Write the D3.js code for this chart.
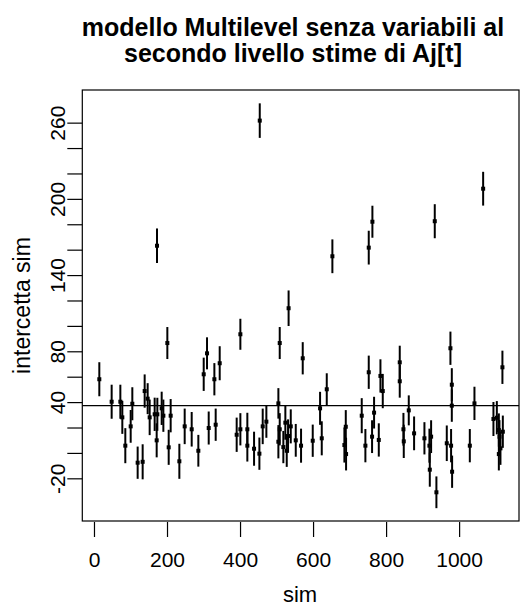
<!DOCTYPE html>
<html>
<head>
<meta charset="utf-8">
<script src="https://cdn.jsdelivr.net/npm/d3@7"></script>
<style>
body { margin: 0; background: #fff; }
text { font-family: 'Liberation Sans', Arial, sans-serif; fill: #000; }
</style>
</head>
<body>
<script>
// stime per simulazione: posizione, stima, mezza ampiezza della barra
var simX = [14.6, 48.4, 72.2, 77.6, 85.8, 100.5, 105, 119.6, 133.3, 138.8, 147, 152.5, 166.2, 171.7, 172.6, 173.5, 185.4, 190, 200.9, 204.6,
	210, 233.8, 248.4, 267.6, 285.8, 300.5, 309.6, 314.2, 329.7, 333.3, 344.3, 390.8, 400.9, 400.9, 420, 420, 438.4, 453, 454, 462.1,
	472.1, 505, 505, 508.7, 508.7, 518.6, 524.1, 527.9, 531.5, 533, 538.9, 552.6, 567.1, 571.7, 599.1, 619.2, 623.8, 637.5, 652.9, 685.8,
	689.6, 690.4, 733.3, 743.3, 752.5, 752.5, 761.6, 762.5, 767.1, 780, 784.5, 790.9, 837.4, 837.4, 847.5, 848.4, 862.1, 876.7, 905, 918.7,
	919.7, 923.3, 933.3, 937.8, 966.2, 976.2, 978, 980, 980, 980.8, 1029.3, 1042, 1065.8, 1094, 1103.3, 1108.8, 1108.8, 1110.5, 1113.2, 1118.6,
	1119.7]
var simY = [58, 40.3, 40.3, 28, 5.7, 20.9, 38.7, -7.7, -7, 48.7, 42.7, 28, 30.4, 9.9, 163.1, 30.4, 35.1, 29.3, 86.5, 4.4,
	29.3, -6.6, 20.9, 18.6, 1.7, 61.9, 78.4, 19.6, 58, 22.2, 70.6, 14.3, 93.4, 18.6, 18.6, 5.7, 3.3, -0.6, 261.6, 20.9,
	24.6, 39, 8.8, 86.5, 18.6, 4.6, 23.8, 1.7, 13.3, 113.9, 20.9, 9.9, 5.7, 74.5, 9.6, 35.1, 11.5, 50.1, 154.8, 6.2,
	20.6, -0.9, 29.3, 5.7, 63.5, 161.6, 12.8, 182, 31.7, 10.2, 60.6, 48.7, 71.3, 56.4, 18.6, 9.1, 33.5, 15.4, 11.5, 5.7,
	-13.2, 12.8, 182.4, -31, 7.6, 82.4, 5.7, 53.7, 37.2, -14.8, 5.7, 39, 208, 26.7, 27.7, 18, -0.9, 12.8, 3.6, 67.4,
	16.7]
var simErr = [13.4, 13.4, 13.4, 13, 13.8, 12.9, 13, 12.7, 13.8, 13.1, 12.2, 14, 13.1, 13.4, 13.6, 13, 13.1, 12.7, 12.6, 13.8,
	13.1, 13.8, 14, 13.6, 12.5, 13.1, 12.6, 13, 12.7, 12.7, 13.4, 13.5, 12.2, 12.7, 13, 12.5, 13.4, 12.7, 13.6, 14,
	12.7, 12, 13.1, 12.6, 12.7, 12.7, 13.4, 12.7, 13.1, 14, 13.4, 12.9, 13.4, 12.7, 12.7, 13, 13.4, 12.6, 13.3, 13.8,
	13.1, 12.9, 13.8, 13.1, 13.1, 13.3, 12.9, 12.6, 12.5, 13.1, 13.1, 13.5, 13.1, 12.9, 12.9, 13.1, 11.8, 13.3, 12.7, 13.4,
	13.4, 12.9, 13.4, 12.5, 14, 13.1, 13.1, 13, 12.7, 12.7, 13.1, 13.1, 13.3, 13.4, 13.1, 13.1, 12.9, 13, 13, 13.1,
	12.7]
var refLine = 37.2
var xTicks = [0, 200, 400, 600, 800, 1000]
var yTicks = d3.range(-20, 261, 20)
var yLabels = [-20, 40, 80, 140, 200, 260]
var titleLines = ['modello Multilevel senza variabili al', 'secondo livello stime di Aj[t]']

var dims = {width: 521, height: 612, left: 82.3, top: 90, right: 519, bottom: 521}

var svg = d3.select('body').append('svg')
	.attr('width', dims.width)
	.attr('height', dims.height)

var x = d3.scaleLinear()
	.domain([-32, 1164])
	.range([dims.left, dims.right]),
y = d3.scaleLinear()
	.domain([-53.6, 285.7])
	.range([dims.bottom, dims.top]);

var points = simX.map(function(d, i) {
	return {x: d, y: simY[i], e: simErr[i]}
})

// title
svg.append('g')
	.selectAll('text')
	.data(titleLines)
	.enter()
	.append('text')
	.attr('x', 293)
	.attr('y', function(d, i) { return 36 + i * 26 })
	.attr('text-anchor', 'middle')
	.style('font-size', '25px')
	.style('font-weight', 'bold')
	.text(function(d) { return d })

// axes
var xAxis = svg.append('g')
	.attr('transform', 'translate(0,' + (dims.bottom + 1) + ')')
	.call(d3.axisBottom(x).tickValues(xTicks).tickSize(15).tickPadding(15).tickSizeOuter(0)
		.tickFormat(d3.format('d')))
xAxis.select('.domain').remove()
xAxis.selectAll('line').attr('stroke-width', 1.2)
xAxis.selectAll('text')
	.style('font-size', '21px')
	.style('font-family', "'Liberation Sans', Arial, sans-serif")

var yAxis = svg.append('g')
	.attr('transform', 'translate(' + dims.left + ',0)')
	.call(d3.axisLeft(y).tickValues(yTicks).tickSize(15).tickSizeOuter(0)
		.tickFormat(function(d) { return yLabels.indexOf(d) >= 0 ? d : '' }))
yAxis.select('.domain').remove()
yAxis.selectAll('line').attr('stroke-width', 1.2)
yAxis.selectAll('text')
	.attr('x', 0)
	.attr('dy', 0)
	.attr('text-anchor', 'middle')
	.attr('transform', 'translate(-17,0) rotate(-90)')
	.style('font-size', '21px')
	.style('font-family', "'Liberation Sans', Arial, sans-serif")

svg.append('text')
	.attr('x', 300)
	.attr('y', 602)
	.attr('text-anchor', 'middle')
	.style('font-size', '22px')
	.text('sim')

svg.append('text')
	.attr('transform', 'translate(30,' + ((dims.top + dims.bottom) / 2) + ') rotate(-90)')
	.attr('text-anchor', 'middle')
	.style('font-size', '23px')
	.text('intercetta sim')

// plot box
svg.append('rect')
	.attr('x', dims.left)
	.attr('y', dims.top)
	.attr('width', dims.right - dims.left)
	.attr('height', dims.bottom - dims.top)
	.attr('fill', 'none')
	.attr('stroke', '#000')
	.attr('stroke-width', 1.2)

svg.append('line')
	.attr('x1', dims.left)
	.attr('x2', dims.right)
	.attr('y1', y(refLine))
	.attr('y2', y(refLine))
	.attr('stroke', '#000')
	.attr('stroke-width', 1.3)

// error bars + points
var marks = svg.append('g')
marks.selectAll('.bar')
	.data(points)
	.enter()
	.append('line')
	.attr('class', 'bar')
	.attr('x1', function(d) { return x(d.x) })
	.attr('x2', function(d) { return x(d.x) })
	.attr('y1', function(d) { return y(d.y - d.e) })
	.attr('y2', function(d) { return y(d.y + d.e) })
	.attr('stroke', '#000')
	.attr('stroke-width', 2)

marks.selectAll('.pt')
	.data(points)
	.enter()
	.append('rect')
	.attr('class', 'pt')
	.attr('x', function(d) { return x(d.x) - 2 })
	.attr('y', function(d) { return y(d.y) - 2 })
	.attr('width', 4)
	.attr('height', 4)
	.attr('fill', '#000')
</script>
</body>
</html>
